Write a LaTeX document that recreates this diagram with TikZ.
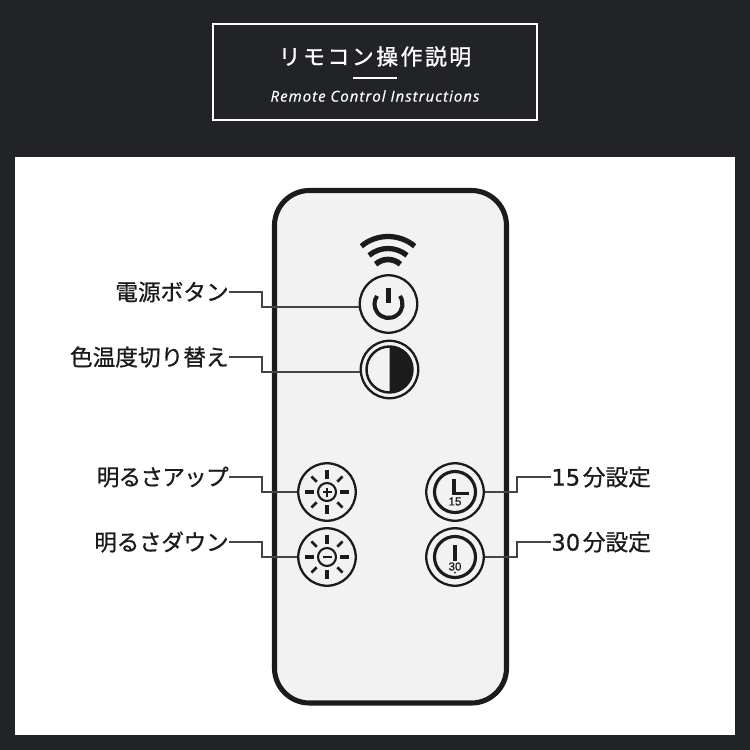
\documentclass[tikz,border=0pt]{standalone}
\usepackage{fontspec}
\setmainfont[FakeBold=0.8]{Noto Sans CJK JP}
\newfontfamily\titlefont[LetterSpace=11,FakeBold=1]{Noto Sans CJK JP}
\newfontfamily\subfont[LetterSpace=7,FakeBold=0.6]{Open Sans}
\newfontfamily\numfont[FakeBold=0.8]{Liberation Sans}
\newfontfamily\digitfont[FakeBold=0.6]{DejaVu Sans}
\definecolor{panelbg}{HTML}{212326}
\definecolor{bodyfill}{HTML}{F2F2F2}
\definecolor{inkdark}{HTML}{1D1A1A}
\definecolor{leadgray}{HTML}{444444}

\begin{document}
\begin{tikzpicture}[
    x=0.02cm,
    y=-0.02cm,
    body/.style={
        draw=inkdark,
        line width=2.9pt,
        fill=bodyfill,
        rounded corners=0.7cm,
    },
    knob/.style={
        circle,
        draw=inkdark,
        line width=1.3pt,
        minimum size=1.15cm,
        inner sep=0pt,
    },
    icon/.style={
        draw=inkdark,
        line width=1.2pt,
    },
    leader/.style={
        draw=leadgray,
        line width=0.8pt,
    },
    tag/.style={
        font=\fontsize{12.9pt}{14pt}\selectfont,
        text=inkdark,
        inner sep=0pt,
    },
    clocknum/.style={
        font=\numfont\fontsize{6.6pt}{7pt}\selectfont,
        text=inkdark,
        inner sep=0pt,
    }
]
    % Background
    \fill[panelbg] (0,0) rectangle (750,750);
    \fill[white] (15,157) rectangle (735,735);

    % Title
    \draw[white, line width=0.8pt] (213,24) rectangle (537,120);
    \node[text=white, inner sep=0pt, font=\titlefont\fontsize{12.5pt}{14pt}\selectfont] (titlejp) at (375,56.5) {リモコン操作説明};
    \node[text=white, inner sep=0pt, font=\subfont\itshape\fontsize{8.5pt}{10pt}\selectfont] (titleen) at (375,96) {Remote Control Instructions};
    \draw[white, line width=0.6pt] (353,78) -- (397,78);

    % Remote
    \draw[body] (274.5,190.5) rectangle (506.5,703);

    % Wifi
    \coordinate (wifi) at (388,278);
    \draw[inkdark, line width=3pt] (wifi) ++(-130:41.5) arc (-130:-50:41.5);
    \draw[inkdark, line width=3pt] (wifi) ++(-130:29.5) arc (-130:-50:29.5);
    \draw[inkdark, line width=3.2pt] (wifi) ++(-132:18.5) arc (-132:-48:18.5);

    % Buttons
    \node[knob] (btnpower) at (388.5,304) {};
    \node[knob] (btntone) at (389.5,369.5) {};
    \node[knob] (btnup) at (327,492) {};
    \node[knob] (btndown) at (327,557) {};
    \node[knob] (btnfifteen) at (455,492) {};
    \node[knob] (btnthirty) at (455,557) {};

    % Power icon
    \draw[icon, line width=2.3pt] (btnpower.center) ++(-35:14) arc (-35:215:14);
    \draw[icon, line width=2.5pt] (388.5,288) -- (388.5,303);

    % Tone icon
    \draw[icon, line width=1.4pt] (btntone.center) circle (23);
    \fill[inkdark] (btntone.center) ++(0,-23) arc (-90:90:23) -- cycle;

    % Sun icons
    \foreach \sun in {btnup, btndown} {
        \draw[icon] (\sun.center) circle (9);
        \foreach \ang in {0,90,180,270}
            \draw[icon, line width=2pt] (\sun.center) ++(\ang:13) -- ++(\ang:9);
        \foreach \ang in {45,135,225,315}
            \draw[icon, line width=1.5pt] (\sun.center) ++(\ang:14.5) -- ++(\ang:7.5);
    }
    \draw[icon, line width=1.4pt] (322.5,492) -- (331.5,492);
    \draw[icon, line width=1.4pt] (327,487.5) -- (327,496.5);
    \draw[icon, line width=1.4pt] (322.5,557) -- (331.5,557);

    % Clock icons
    \foreach \clock in {btnfifteen, btnthirty}
        \draw[icon, line width=1.8pt] (\clock.center) circle (20.5);
    \draw[icon, line width=2pt] (454,479) -- (454,493.5) -- (469,493.5);
    \draw[icon, line width=2pt] (455,545) -- (455,560.5);
    \node[clocknum] (numfifteen) at (455,501.5) {15};
    \node[clocknum] (numthirty) at (455,566.5) {30};
    \fill[inkdark] (455,572.5) circle (1);

    % Labels
    \node[tag, anchor=east] (lblpower) at (229,292) {電源ボタン};
    \node[tag, anchor=east] (lbltone) at (229,357) {色温度切り替え};
    \node[tag, anchor=east] (lblup) at (229,477) {\addfontfeature{LetterSpace=-3.6}明るさアップ};
    \node[tag, anchor=east] (lbldown) at (229,542) {\addfontfeature{LetterSpace=-1.5}明るさダウン};
    \node[tag, anchor=west] (lblfifteen) at (551,477) {{\digitfont 15}\kern1.5pt 分設定};
    \node[tag, anchor=west] (lblthirty) at (551,542) {{\digitfont 30}\kern1.5pt 分設定};

    % Leaders
    \draw[leader] (lblpower.east) -- +(33,0) |- (btnpower.186);
    \draw[leader] (lbltone.east) -- +(33,0) |- (btntone.185);
    \draw[leader] (lblup.east) -- +(33,0) |- (btnup.west);
    \draw[leader] (lbldown.east) -- +(33,0) |- (btndown.west);
    \draw[leader] (btnfifteen.east) -- +(32,0) |- (lblfifteen.west);
    \draw[leader] (btnthirty.east) -- +(32,0) |- (lblthirty.west);
\end{tikzpicture}
\end{document}
